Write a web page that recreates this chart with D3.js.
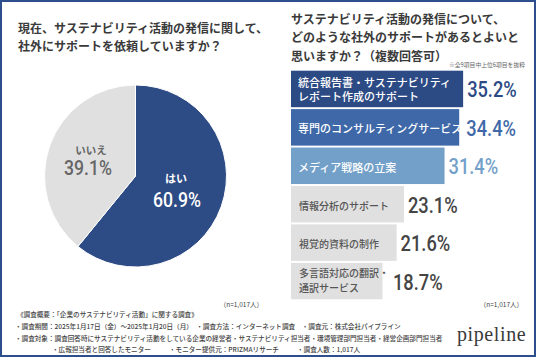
<!DOCTYPE html>
<html><head><meta charset="utf-8">
<script src="https://cdn.jsdelivr.net/npm/d3@7"></script>
<style>
html,body{margin:0;padding:0;background:#fff;}
svg{display:block;}
text{font-family:"Noto Sans CJK JP","Noto Sans",sans-serif;}
.num{font-family:Roboto,"Liberation Sans",sans-serif;}
</style></head>
<body>
<script>
// ---- data ----
const pieLabels = ["はい", "いいえ"];
const pieValues = [60.9, 39.1];
const barCategories = [
  "統合報告書・サステナビリティ\nレポート作成のサポート",
  "専門のコンサルティングサービス",
  "メディア戦略の立案",
  "情報分析のサポート",
  "視覚的資料の制作",
  "多言語対応の翻訳・\n通訳サービス"
];
const barValues = [35.2, 34.4, 31.4, 23.1, 21.6, 18.7];
const leftTitle = ["現在、サステナビリティ活動の発信に関して、", "社外にサポートを依頼していますか？"];
const rightTitle = ["サステナビリティ活動の発信について、", "どのような社外のサポートがあるとよいと", "思いますか？（複数回答可）"];
const noteText = "※全9項目中上位6項目を抜粋";
const nText = "（n=1,017人）";
const footerLines = [
  ["《調査概要：「企業のサステナビリティ活動」に関する調査》"],
  ["・調査期間：2025年1月17日（金）～2025年1月20日（月）　・調査方法：インターネット調査　・調査元：株式会社パイプライン"],
  ["・調査対象：調査回答時にサステナビリティ活動をしている企業の経営者・サステナビリティ担当者・環境管理部門担当者・経営企画部門担当者"],
  ["・広報担当者と回答したモニター", "・モニター提供元：PRIZMAリサーチ", "・調査人数：1,017人"]
];
const logoText = "pipeline";

// ---- styles ----
const W = 536, H = 357;
const navy = "#2d4b84";
const pieColors = [navy, "#e0e0e0"];
const barColors = ["#2c4a84", "#3e68a8", "#73a0c9", "#e0e0e0", "#e0e0e0", "#e0e0e0"];
const barTextColors = ["#fff", "#fff", "#fff", "#555", "#555", "#555"];
const valColors = ["#2c4a84", "#3e68a8", "#73a0c9", "#444", "#444", "#444"];

const svg = d3.select("body").append("svg").attr("width", W).attr("height", H);
svg.append("rect").attr("x", 0).attr("y", 0).attr("width", W).attr("height", H).attr("fill", "#fff");

// titles
svg.append("g").selectAll("text").data(leftTitle).join("text")
  .attr("x", 18).attr("y", (d, i) => 33 + i * 18)
  .attr("font-size", 12).attr("font-weight", 700).attr("fill", "#3a3a3a").text(d => d);
svg.append("g").selectAll("text").data(rightTitle).join("text")
  .attr("x", 291).attr("y", (d, i) => 23.5 + i * 18.5)
  .attr("font-size", 12).attr("font-weight", 700).attr("fill", "#3a3a3a").text(d => d);
svg.append("text").attr("x", 525).attr("y", 67).attr("text-anchor", "end")
  .attr("font-size", 5.8).attr("fill", "#666").text(noteText);

// ---- pie ----
const cx = 135.5, cy = 176, R = 91;
const pie = d3.pie().sort(null).value(d => d);
const arc = d3.arc().innerRadius(0).outerRadius(R);
const pg = svg.append("g").attr("transform", `translate(${cx},${cy})`);
pg.selectAll("path").data(pie(pieValues)).join("path")
  .attr("d", arc).attr("fill", (d, i) => pieColors[i])
  .attr("stroke", "#fff").attr("stroke-width", 1);

const pieLab = [
  {lx: 176, ly: 183, vx: 177, vy: 207, c: "#fff", fs: 11},
  {lx: 91, ly: 153.5, vx: 88, vy: 175, c: "#666", fs: 10.5}
];
pieLabels.forEach((lab, i) => {
  const p = pieLab[i];
  svg.append("text").attr("x", p.lx).attr("y", p.ly).attr("text-anchor", "middle")
    .attr("font-size", p.fs).attr("font-weight", 700).attr("fill", p.c).text(lab);
  svg.append("text").attr("class", "num")
    .attr("transform", `translate(${p.vx},${p.vy}) scale(0.84,1)`)
    .attr("text-anchor", "middle").attr("font-size", 21).attr("font-weight", 500)
    .attr("fill", p.c).text(pieValues[i].toFixed(1) + "%");
});

// ---- bars ----
const x = d3.scaleLinear().domain([0, 40]).range([291, 291 + 40 * 4.89]);
const y = d3.scaleBand().domain(barCategories).range([70.7, 299.3]).paddingInner(0.05).paddingOuter(0);
const bg = svg.append("g");
bg.selectAll("rect").data(barValues).join("rect")
  .attr("x", x(0)).attr("y", (d, i) => y(barCategories[i]))
  .attr("width", d => x(d) - x(0)).attr("height", y.bandwidth())
  .attr("fill", (d, i) => barColors[i]);

barCategories.forEach((cat, i) => {
  const lines = cat.split("\n");
  const fs = i < 3 ? 11 : 10;
  const c = y(cat) + y.bandwidth() / 2;
  const t = svg.append("text").attr("font-size", fs).attr("font-weight", 500)
    .attr("fill", barTextColors[i]);
  let maxEnd = 0;
  lines.forEach((ln, j) => {
    const yy = lines.length === 1 ? c + fs * 0.4 + 1.5
      : c + (i < 3 ? 5 : 3.5) + (j - 0.5) * (i < 3 ? 14.5 : 15);
    t.append("tspan").attr("x", i < 3 ? 298 : 299).attr("y", yy).text(ln);
  });
  t.selectAll("tspan").each(function () {
    const e = (i < 3 ? 298 : 299) + this.getComputedTextLength();
    if (e > maxEnd) maxEnd = e;
  });
  const vx = Math.max(x(barValues[i]), maxEnd) + 4;
  svg.append("text").attr("class", "num")
    .attr("transform", `translate(${vx},${c + 8.5}) scale(0.83,1)`)
    .attr("font-size", 22).attr("font-weight", 500).attr("fill", valColors[i])
    .text(barValues[i].toFixed(1) + "%");
});

// n labels
svg.append("text").attr("x", 263).attr("y", 306.5).attr("text-anchor", "end")
  .attr("font-size", 6.5).attr("fill", "#444").text(nText);
svg.append("text").attr("x", 523).attr("y", 306.5).attr("text-anchor", "end")
  .attr("font-size", 6.5).attr("fill", "#444").text(nText);

// footer
const fy = [317, 329.3, 340.5, 352];
const fx = [[17], [15], [15], [52, 169, 297]];
footerLines.forEach((segs, i) => {
  segs.forEach((s, j) => {
    svg.append("text").attr("x", fx[i][j]).attr("y", fy[i])
      .attr("font-size", 6.6).attr("font-weight", 500).attr("fill", "#444").text(s);
  });
});
svg.append("text").attr("x", 457).attr("y", 341)
  .style("font-family", "'Liberation Serif',serif").attr("font-size", 20)
  .attr("letter-spacing", 0.6)
  .attr("fill", "#3a3a3a").text(logoText);

// border
svg.append("rect").attr("x", 1).attr("y", 1).attr("width", W - 2).attr("height", H - 2)
  .attr("fill", "none").attr("stroke", "#2d4f8e").attr("stroke-width", 2);
</script>
</body></html>
